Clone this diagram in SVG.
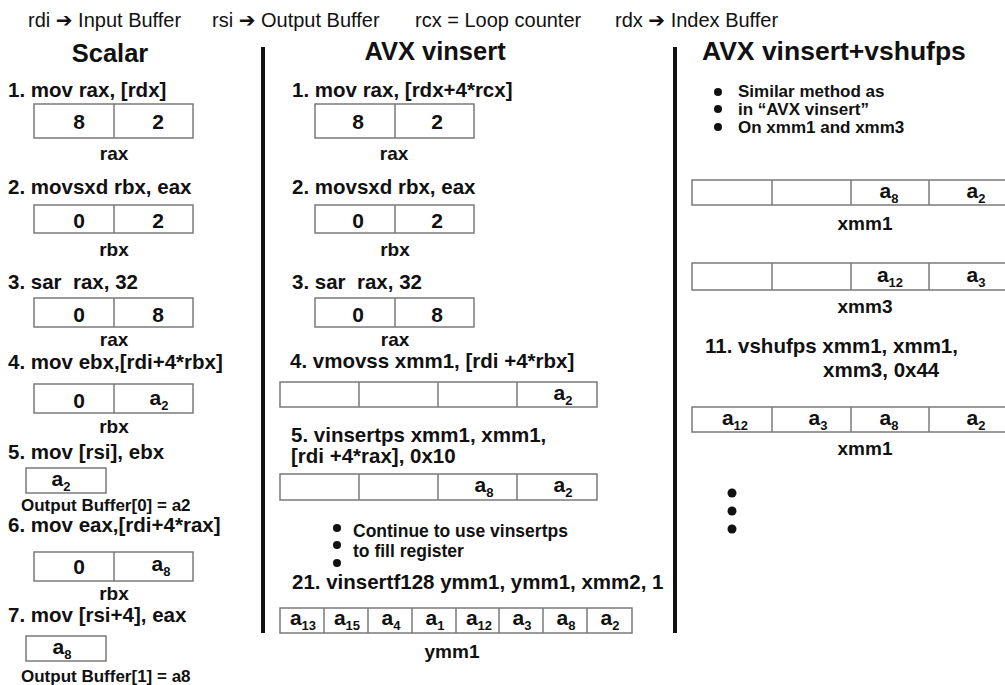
<svg xmlns="http://www.w3.org/2000/svg" width="1005" height="685" viewBox="0 0 1005 685">
<style>
text{font-family:"Liberation Sans","DejaVu Sans",Arial,sans-serif;fill:#111}
.hdr{font-size:20px}
.title{font-size:25.5px;font-weight:bold}
.cmd{font-size:20.5px;font-weight:bold;white-space:pre}
.lbl{font-size:19px;font-weight:bold;text-anchor:middle}
.note{font-size:17px;font-weight:bold}
.val{font-size:21px;font-weight:bold;text-anchor:middle}
.sub{font-size:13px}
.cell{fill:#fff;stroke:#7a7a7a;stroke-width:1.5}
.div{stroke:#7a7a7a;stroke-width:1.5}
.bar{stroke:#111;stroke-width:4}
.dot{fill:#111}
</style>
<rect width="1005" height="685" fill="#fff"/>

<g id="header">
<text class="hdr" x="28" y="27">rdi ➔ Input Buffer</text>
<text class="hdr" x="212" y="27">rsi ➔ Output Buffer</text>
<text class="hdr" x="415" y="27">rcx = Loop counter</text>
<text class="hdr" x="615" y="27">rdx ➔ Index Buffer</text>
</g>

<g id="connectors">
<line class="bar" x1="263" y1="47" x2="263" y2="633"/>
<line class="bar" x1="675" y1="47" x2="675" y2="633"/>
</g>

<g id="scalar">
<text class="title" x="110" y="62" text-anchor="middle">Scalar</text>
<g id="s1">
<text class="cmd" x="8" y="97">1. mov rax, [rdx]</text>
<rect class="cell" x="34" y="104" width="159" height="34"/><line class="div" x1="114" y1="104" x2="114" y2="138"/>
<text class="val" x="79" y="129">8</text><text class="val" x="158" y="129">2</text>
<text class="lbl" x="114" y="160">rax</text>
</g>
<g id="s2">
<text class="cmd" x="8" y="194">2. movsxd rbx, eax</text>
<rect class="cell" x="34" y="205" width="159" height="28"/><line class="div" x1="114" y1="205" x2="114" y2="233"/>
<text class="val" x="79" y="228">0</text><text class="val" x="158" y="228">2</text>
<text class="lbl" x="114" y="256">rbx</text>
</g>
<g id="s3">
<text class="cmd" x="8" y="289">3. sar  rax, 32</text>
<rect class="cell" x="34" y="298" width="159" height="29"/><line class="div" x1="114" y1="298" x2="114" y2="327"/>
<text class="val" x="79" y="322">0</text><text class="val" x="158" y="322">8</text>
<text class="lbl" x="114" y="346">rax</text>
</g>
<g id="s4">
<text class="cmd" x="8" y="369">4. mov ebx,[rdi+4*rbx]</text>
<rect class="cell" x="34" y="384" width="159" height="29"/><line class="div" x1="114" y1="384" x2="114" y2="413"/>
<text class="val" x="79" y="408">0</text><text class="val" x="159" y="405">a<tspan class="sub" dy="5">2</tspan></text>
<text class="lbl" x="114" y="433">rbx</text>
</g>
<g id="s5">
<text class="cmd" x="8" y="459">5. mov [rsi], ebx</text>
<rect class="cell" x="26" y="468" width="80" height="25"/>
<text class="val" x="61" y="486">a<tspan class="sub" dy="5">2</tspan></text>
<text class="note" x="21" y="511">Output Buffer[0] = a2</text>
</g>
<g id="s6">
<text class="cmd" x="8" y="532">6. mov eax,[rdi+4*rax]</text>
<rect class="cell" x="34" y="552" width="159" height="29"/><line class="div" x1="114" y1="552" x2="114" y2="581"/>
<text class="val" x="79" y="574">0</text><text class="val" x="161" y="571">a<tspan class="sub" dy="5">8</tspan></text>
<text class="lbl" x="114" y="600">rbx</text>
</g>
<g id="s7">
<text class="cmd" x="8" y="622">7. mov [rsi+4], eax</text>
<rect class="cell" x="26" y="636" width="80" height="25"/>
<text class="val" x="62" y="654">a<tspan class="sub" dy="5">8</tspan></text>
<text class="note" x="21" y="682">Output Buffer[1] = a8</text>
</g>
</g>

<g id="avx-vinsert">
<text class="title" x="435" y="60" text-anchor="middle">AVX vinsert</text>
<g id="v1">
<text class="cmd" x="292" y="97">1. mov rax, [rdx+4*rcx]</text>
<rect class="cell" x="315" y="104" width="159" height="34"/><line class="div" x1="395" y1="104" x2="395" y2="138"/>
<text class="val" x="358" y="129">8</text><text class="val" x="437" y="129">2</text>
<text class="lbl" x="394" y="160">rax</text>
</g>
<g id="v2">
<text class="cmd" x="292" y="194">2. movsxd rbx, eax</text>
<rect class="cell" x="315" y="205" width="159" height="28"/><line class="div" x1="395" y1="205" x2="395" y2="233"/>
<text class="val" x="358" y="228">0</text><text class="val" x="437" y="228">2</text>
<text class="lbl" x="395" y="256">rbx</text>
</g>
<g id="v3">
<text class="cmd" x="292" y="289">3. sar  rax, 32</text>
<rect class="cell" x="315" y="298" width="159" height="29"/><line class="div" x1="395" y1="298" x2="395" y2="327"/>
<text class="val" x="358" y="322">0</text><text class="val" x="437" y="322">8</text>
<text class="lbl" x="395" y="346">rax</text>
</g>
<g id="v4">
<text class="cmd" x="290" y="368">4. vmovss xmm1, [rdi +4*rbx]</text>
<rect class="cell" x="280" y="382" width="317" height="25"/>
<line class="div" x1="359" y1="382" x2="359" y2="407"/><line class="div" x1="438" y1="382" x2="438" y2="407"/><line class="div" x1="517" y1="382" x2="517" y2="407"/>
<text class="val" x="563" y="400">a<tspan class="sub" dy="5">2</tspan></text>
</g>
<g id="v5">
<text class="cmd" x="291" y="442">5. vinsertps xmm1, xmm1,</text>
<text class="cmd" x="291" y="463">[rdi +4*rax], 0x10</text>
<rect class="cell" x="280" y="474" width="317" height="26"/>
<line class="div" x1="359" y1="474" x2="359" y2="500"/><line class="div" x1="438" y1="474" x2="438" y2="500"/><line class="div" x1="517" y1="474" x2="517" y2="500"/>
<text class="val" x="484" y="492">a<tspan class="sub" dy="5">8</tspan></text>
<text class="val" x="563" y="492">a<tspan class="sub" dy="5">2</tspan></text>
</g>
<g id="v-bullets">
<circle class="dot" cx="337" cy="528" r="4"/><circle class="dot" cx="337" cy="545" r="4"/><circle class="dot" cx="337" cy="563" r="4"/>
<text class="note" x="353" y="537" style="font-size:17.5px">Continue to use vinsertps</text>
<text class="note" x="353" y="557" style="font-size:17.5px">to fill register</text>
</g>
<g id="v21">
<text class="cmd" x="292" y="589">21. vinsertf128 ymm1, ymm1, xmm2, 1</text>
<rect class="cell" x="280" y="608" width="352" height="25"/>
<line class="div" x1="324" y1="608" x2="324" y2="633"/><line class="div" x1="368" y1="608" x2="368" y2="633"/><line class="div" x1="412" y1="608" x2="412" y2="633"/><line class="div" x1="456" y1="608" x2="456" y2="633"/><line class="div" x1="499" y1="608" x2="499" y2="633"/><line class="div" x1="543" y1="608" x2="543" y2="633"/><line class="div" x1="587" y1="608" x2="587" y2="633"/>
<text class="val" x="303" y="625">a<tspan class="sub" dy="5">13</tspan></text>
<text class="val" x="347" y="625">a<tspan class="sub" dy="5">15</tspan></text>
<text class="val" x="391" y="625">a<tspan class="sub" dy="5">4</tspan></text>
<text class="val" x="435" y="625">a<tspan class="sub" dy="5">1</tspan></text>
<text class="val" x="479" y="625">a<tspan class="sub" dy="5">12</tspan></text>
<text class="val" x="522" y="625">a<tspan class="sub" dy="5">3</tspan></text>
<text class="val" x="566" y="625">a<tspan class="sub" dy="5">8</tspan></text>
<text class="val" x="610" y="625">a<tspan class="sub" dy="5">2</tspan></text>
<text class="lbl" x="452" y="658">ymm1</text>
</g>
</g>

<g id="avx-vshufps">
<text class="title" x="702" y="60" style="font-size:26.5px">AVX vinsert+vshufps</text>
<g id="r-bullets">
<circle class="dot" cx="718" cy="92" r="4"/><circle class="dot" cx="718" cy="109" r="4"/><circle class="dot" cx="718" cy="127" r="4"/>
<text class="note" x="738" y="97">Similar method as</text>
<text class="note" x="738" y="115">in “AVX vinsert”</text>
<text class="note" x="738" y="133">On xmm1 and xmm3</text>
</g>
<g id="r-xmm1">
<rect class="cell" x="692" y="180" width="318" height="25"/>
<line class="div" x1="772" y1="180" x2="772" y2="205"/><line class="div" x1="851" y1="180" x2="851" y2="205"/><line class="div" x1="929" y1="180" x2="929" y2="205"/>
<text class="val" x="889" y="198">a<tspan class="sub" dy="5">8</tspan></text>
<text class="val" x="976" y="198">a<tspan class="sub" dy="5">2</tspan></text>
<text class="lbl" x="865" y="230">xmm1</text>
</g>
<g id="r-xmm3">
<rect class="cell" x="692" y="263" width="318" height="27"/>
<line class="div" x1="772" y1="263" x2="772" y2="290"/><line class="div" x1="851" y1="263" x2="851" y2="290"/><line class="div" x1="929" y1="263" x2="929" y2="290"/>
<text class="val" x="890" y="282">a<tspan class="sub" dy="5">12</tspan></text>
<text class="val" x="976" y="282">a<tspan class="sub" dy="5">3</tspan></text>
<text class="lbl" x="865" y="313">xmm3</text>
</g>
<g id="r-shuf">
<text class="cmd" x="705" y="353">11. vshufps xmm1, xmm1,</text>
<text class="cmd" x="823" y="377">xmm3, 0x44</text>
<rect class="cell" x="692" y="407" width="318" height="25"/>
<line class="div" x1="772" y1="407" x2="772" y2="432"/><line class="div" x1="851" y1="407" x2="851" y2="432"/><line class="div" x1="929" y1="407" x2="929" y2="432"/>
<text class="val" x="735" y="425">a<tspan class="sub" dy="5">12</tspan></text>
<text class="val" x="818" y="425">a<tspan class="sub" dy="5">3</tspan></text>
<text class="val" x="889" y="425">a<tspan class="sub" dy="5">8</tspan></text>
<text class="val" x="976" y="425">a<tspan class="sub" dy="5">2</tspan></text>
<text class="lbl" x="865" y="455">xmm1</text>
</g>
<g id="r-dots">
<circle class="dot" cx="732" cy="493" r="4.5"/><circle class="dot" cx="732" cy="511" r="4.5"/><circle class="dot" cx="732" cy="529" r="4.5"/>
</g>
</g>
</svg>
